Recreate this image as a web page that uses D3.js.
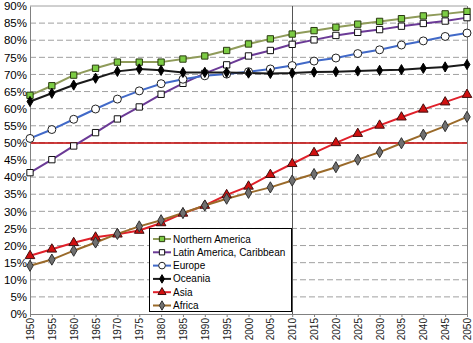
<!DOCTYPE html>
<html><head><meta charset="utf-8">
<script src="https://cdn.jsdelivr.net/npm/d3@7"></script>
<style>
body{margin:0;background:#fff;}
svg{display:block;font-family:Arial,"Liberation Sans",sans-serif;}
</style></head>
<body><svg id="c" width="473" height="343"></svg>
<script>
const years = [1950,1955,1960,1965,1970,1975,1980,1985,1990,1995,2000,2005,2010,2015,2020,2025,2030,2035,2040,2045,2050];
const northernAmerica = [63.9,66.7,69.8,71.8,73.6,73.6,73.6,74.5,75.4,77.0,78.9,80.4,81.8,82.8,83.8,84.7,85.5,86.3,87.1,87.7,88.4];
const latinAmerica   = [41.3,45.1,49.1,53.0,57.0,60.5,64.2,67.4,70.3,72.8,75.4,77.0,78.8,80.1,81.4,82.3,83.1,84.1,84.9,85.6,86.6];
const europe         = [51.3,53.9,56.9,59.9,62.8,65.2,67.3,68.6,69.6,70.1,70.8,71.6,72.6,73.9,74.8,76.1,77.2,78.6,79.8,81.1,82.1];
const oceania        = [62.1,64.5,66.9,68.9,70.9,71.6,71.2,70.6,70.6,70.6,70.4,70.3,70.4,70.7,70.8,71.0,71.2,71.4,71.8,72.2,72.9];
const asia           = [17.0,18.9,20.8,22.4,23.3,24.4,26.6,29.4,31.7,34.8,37.3,40.7,43.9,47.1,50.0,52.7,55.1,57.5,59.8,61.9,64.1];
const africa         = [14.1,15.9,18.5,20.9,23.4,25.6,27.4,29.5,31.7,33.7,35.4,37.0,39.0,40.9,42.9,45.1,47.3,49.9,52.4,54.9,57.6];
const seriesNames = ["Northern America","Latin America, Caribbean","Europe","Oceania","Asia","Africa"];
const yTicks = [0,5,10,15,20,25,30,35,40,45,50,55,60,65,70,75,80,85,90];

const styles = [
  {line:"#8f9b5a", fill:"#7ccc44", stroke:"#2a3a10", shape:d3.symbolSquare, size:40},
  {line:"#6b3a96", fill:"#ffffff", stroke:"#111111", shape:d3.symbolSquare, size:40},
  {line:"#4169c8", fill:"#ffffff", stroke:"#222222", shape:d3.symbolCircle, size:50},
  {line:"#1a1a1a", fill:"#000000", stroke:"#000000", shape:d3.symbolDiamond, size:30},
  {line:"#e0202a", fill:"#d01010", stroke:"#401010", shape:d3.symbolTriangle, size:40},
  {line:"#9a6a2a", fill:"#707070", stroke:"#303030", shape:d3.symbolDiamond, size:36}
];
const data = [northernAmerica, latinAmerica, europe, oceania, asia, africa];

const svg = d3.select("#c");
const x = d3.scaleLinear().domain([1950,2050]).range([30,467]);
const y = d3.scaleLinear().domain([0,90]).range([314,6]);

// gridlines
svg.append("g").selectAll("line").data(yTicks.filter(t=>t>0)).join("line")
  .attr("x1",30).attr("x2",467).attr("y1",d=>y(d)).attr("y2",d=>y(d))
  .attr("stroke","#a0a0a0").attr("stroke-width",1)
  .attr("stroke-dasharray",d=>d===90?null:"6,3");
// right border
svg.append("line").attr("x1",467.5).attr("x2",467.5).attr("y1",y(90)).attr("y2",y(0)).attr("stroke","#808080");
// 2010 vertical line
svg.append("line").attr("x1",Math.round(x(2010))+0.5).attr("x2",Math.round(x(2010))+0.5).attr("y1",y(90)).attr("y2",y(0)).attr("stroke","#555");
// 50% line
svg.append("line").attr("x1",30).attr("x2",467).attr("y1",y(50)).attr("y2",y(50)).attr("stroke","#c00000").attr("stroke-width",1.5);

// axes
const yAxis = d3.axisLeft(y).tickValues(yTicks).tickFormat(d=>d+"%").tickSize(0).tickPadding(3);
const gy = svg.append("g").attr("transform","translate(30,0)").call(yAxis);
gy.select(".domain").attr("stroke","#808080");
gy.selectAll("text").attr("font-size","11.5px").attr("fill","#000").attr("font-family","Arial, 'Liberation Sans', sans-serif");

const xAxis = d3.axisBottom(x).tickValues(years).tickFormat(d3.format("d")).tickSize(3).tickPadding(2);
const gx = svg.append("g").attr("transform","translate(0,314)").call(xAxis);
gx.select(".domain").attr("stroke","#808080");
gx.selectAll(".tick line").attr("stroke","#808080");
gx.selectAll("text").attr("font-size","10px").attr("fill","#222").attr("font-family","Arial, 'Liberation Sans', sans-serif")
  .attr("transform","rotate(-90)").attr("text-anchor","end").attr("x",-4).attr("y",0).attr("dy","0.35em");

// lines & markers
const lineGen = d3.line().x((d,i)=>x(years[i])).y(d=>y(d));
data.forEach((s,k)=>{
  const st = styles[k];
  svg.append("path").datum(s).attr("d",lineGen).attr("fill","none").attr("stroke",st.line).attr("stroke-width",2);
});
data.forEach((s,k)=>{
  const st = styles[k];
  svg.append("g").selectAll("path").data(s).join("path")
    .attr("d",d3.symbol().type(st.shape).size(st.size))
    .attr("transform",(d,i)=>`translate(${x(years[i])},${y(d)})`)
    .attr("fill",st.fill).attr("stroke",st.stroke).attr("stroke-width",1);
});

// legend
const lg = svg.append("g");
lg.append("rect").attr("x",149.5).attr("y",228.5).attr("width",142).attr("height",83).attr("fill","#fff").attr("stroke","#000");
seriesNames.forEach((n,k)=>{
  const st = styles[k];
  const cy = 239 + k*13.3;
  lg.append("line").attr("x1",153).attr("x2",171).attr("y1",cy).attr("y2",cy).attr("stroke",st.line).attr("stroke-width",2);
  lg.append("path").attr("d",d3.symbol().type(st.shape).size(st.size*0.7)).attr("transform",`translate(162,${cy})`)
    .attr("fill",st.fill).attr("stroke",st.stroke).attr("stroke-width",1);
  lg.append("text").attr("x",173).attr("y",cy).attr("dy","0.35em").attr("font-size","10px").text(n);
});
</script></body></html>
